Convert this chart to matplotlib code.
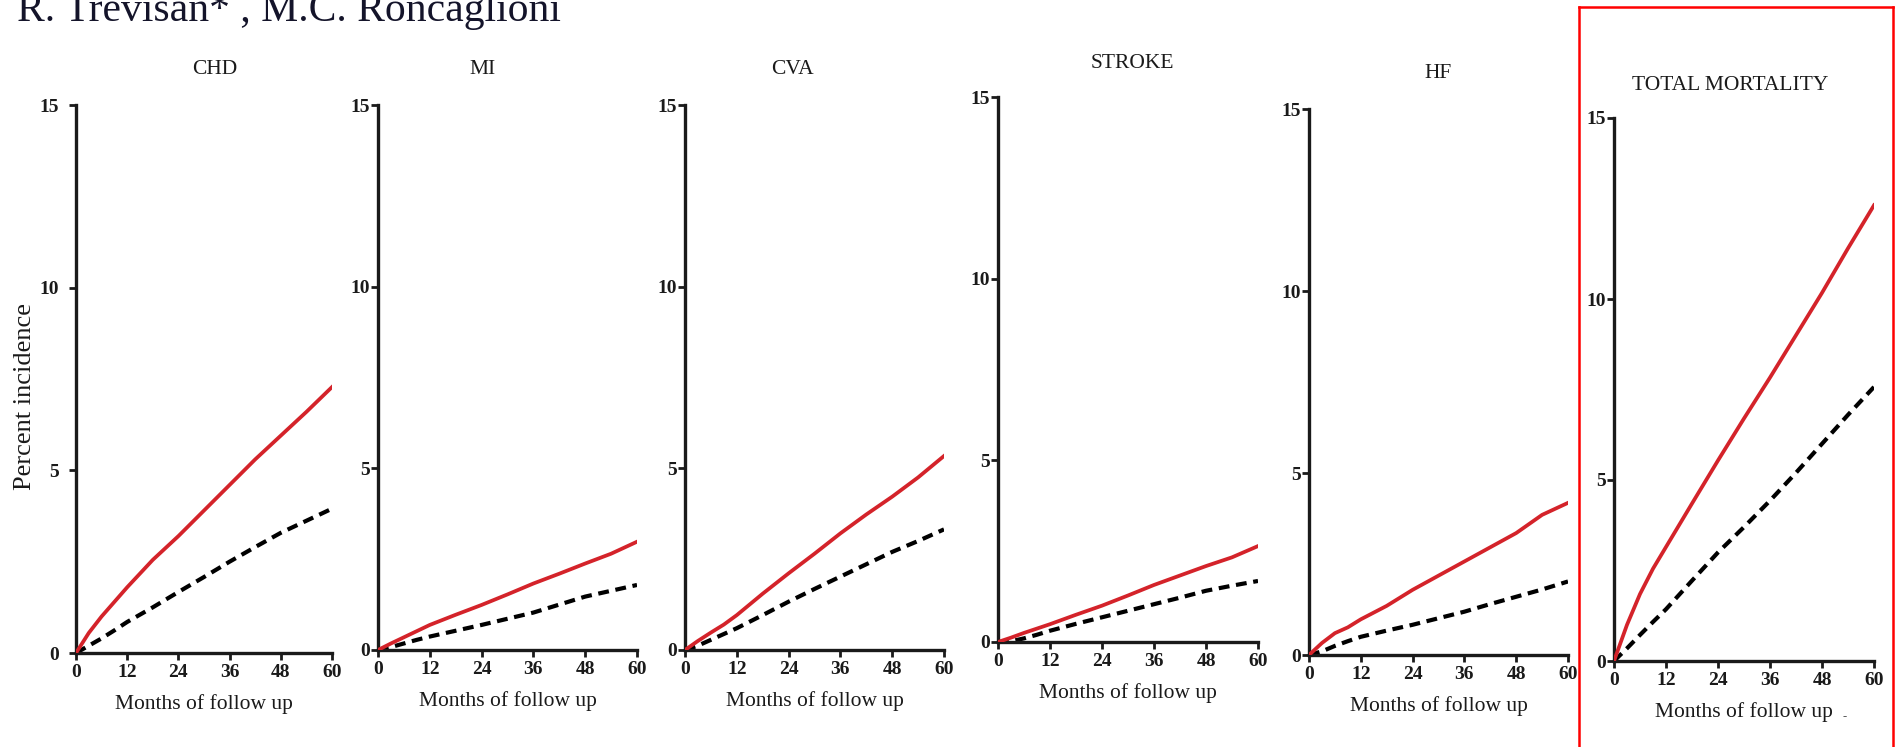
import matplotlib
matplotlib.use("Agg")
import matplotlib.pyplot as plt
from matplotlib.lines import Line2D

plt.rcParams['font.family'] = ['Liberation Serif', 'DejaVu Serif']

W, H = 1895, 747

# ---------------- data ----------------
months = [0, 3, 6, 9, 12, 18, 24, 30, 36, 42, 48, 54, 60]
panel_titles = ["CHD", "MI", "CVA", "STROKE", "HF", "TOTAL MORTALITY"]

red_chd = [0, 0.55, 1.0, 1.4, 1.8, 2.55, 3.2, 3.9, 4.6, 5.3, 5.95, 6.6, 7.28]
blk_chd = [0, 0.2, 0.4, 0.62, 0.85, 1.25, 1.67, 2.08, 2.5, 2.9, 3.29, 3.62, 3.95]

red_mi = [0, 0.18, 0.35, 0.52, 0.69, 0.97, 1.24, 1.53, 1.83, 2.1, 2.38, 2.65, 2.98]
blk_mi = [0, 0.08, 0.18, 0.28, 0.37, 0.53, 0.69, 0.86, 1.03, 1.25, 1.47, 1.63, 1.79]

red_cva = [0, 0.25, 0.48, 0.7, 0.96, 1.55, 2.11, 2.65, 3.21, 3.73, 4.22, 4.75, 5.34]
blk_cva = [0, 0.12, 0.28, 0.44, 0.6, 0.96, 1.33, 1.68, 2.02, 2.36, 2.7, 3.0, 3.32]

red_stroke = [0, 0.12, 0.25, 0.37, 0.49, 0.75, 1.0, 1.28, 1.57, 1.83, 2.09, 2.33, 2.64]
blk_stroke = [0, 0.02, 0.1, 0.2, 0.31, 0.5, 0.68, 0.86, 1.04, 1.22, 1.41, 1.55, 1.68]

red_hf = [0, 0.33, 0.6, 0.76, 0.98, 1.35, 1.79, 2.18, 2.57, 2.96, 3.35, 3.85, 4.18]
blk_hf = [0, 0.1, 0.25, 0.38, 0.5, 0.67, 0.83, 1.01, 1.19, 1.4, 1.6, 1.8, 2.02]

red_tm = [0, 1.0, 1.85, 2.55, 3.15, 4.35, 5.54, 6.7, 7.83, 9.0, 10.17, 11.4, 12.59]
blk_tm = [0, 0.35, 0.72, 1.08, 1.43, 2.22, 3.0, 3.7, 4.43, 5.2, 6.0, 6.8, 7.57]

red_series = [red_chd, red_mi, red_cva, red_stroke, red_hf, red_tm]
blk_series = [blk_chd, blk_mi, blk_cva, blk_stroke, blk_hf, blk_tm]

x_ticks = [0, 12, 24, 36, 48, 60]
y_ticks = [0, 5, 10, 15]
x_label = "Months of follow up"
y_label = "Percent incidence"
header = "R. Trevisan* , M.C. Roncaglioni"

# ---------------- layout (pixels) ----------------
# (x0, x1, y_top(15), y_zero)
boxes = [(76, 332, 105, 653),
         (378, 637, 105, 650),
         (685, 944, 105, 650),
         (998, 1258, 97, 642),
         (1309, 1568, 109, 655),
         (1614, 1874, 118, 661)]
title_pos = [(215, 69), (483, 69), (792, 69), (1132, 63), (1438, 73), (1730, 85)]

fig = plt.figure(figsize=(W / 100, H / 100), dpi=100)

red = '#d4232a'
ink = '#1a1a1a'
for i, (x0, x1, yt, yz) in enumerate(boxes):
    ax = fig.add_axes([x0 / W, 1 - yz / H, (x1 - x0) / W, (yz - yt) / H])
    ax.plot(months, blk_series[i], color='black', lw=3.0, dashes=(2.6, 1.6),
            solid_capstyle='butt', zorder=2)
    ax.plot(months, red_series[i], color=red, lw=2.7, zorder=3,
            solid_joinstyle='round')
    ax.set_xlim(0, 60)
    ax.set_ylim(0, 15)
    ax.set_xticks(x_ticks)
    ax.set_yticks(y_ticks)
    for s in ['top', 'right']:
        ax.spines[s].set_visible(False)
    for s in ['left', 'bottom']:
        ax.spines[s].set_linewidth(2.4)
        ax.spines[s].set_color(ink)
    ax.tick_params(axis='both', direction='out', length=5, width=2.0,
                   colors=ink, labelsize=14)
    ax.tick_params(axis='x', pad=3)
    ax.tick_params(axis='y', pad=7 if i == 0 else 1)
    for lab in ax.get_xticklabels() + ax.get_yticklabels():
        lab.set_fontweight('bold')
    ax.set_xlabel(x_label, fontsize=15.5, labelpad=9, color=ink)
    ax.patch.set_alpha(0)
    for sp in ax.spines.values():
        sp.set_clip_on(False)
    tx, ty = title_pos[i]
    fig.text(tx / W, 1 - ty / H, panel_titles[i], ha='center', va='center',
             fontsize=15.5, color=ink)

fig.text(25 / W, 1 - 396 / H, y_label, rotation=90, ha='center', va='center',
         fontsize=19, color=ink)

fig.text(17 / W, 1 - 21 / H, header, ha='left', va='baseline', fontsize=30,
         color='#14142a')

# small stray mark in the last panel
fig.text(1845 / W, 1 - 717 / H, "-", ha='center', va='center', fontsize=9,
         color='#555555')

# red frame around total mortality
fx0, fy0, fx1 = 1579, 7, 1893
for xs, ys in [((fx0, fx0), (fy0, H + 5)), ((fx0, fx1), (fy0, fy0)),
               ((fx1, fx1), (fy0, H + 5))]:
    fig.add_artist(Line2D([x / W for x in xs], [1 - y / H for y in ys],
                          color='#ff0000', lw=1.8, transform=fig.transFigure))

fig.savefig("out.png", dpi=100)
